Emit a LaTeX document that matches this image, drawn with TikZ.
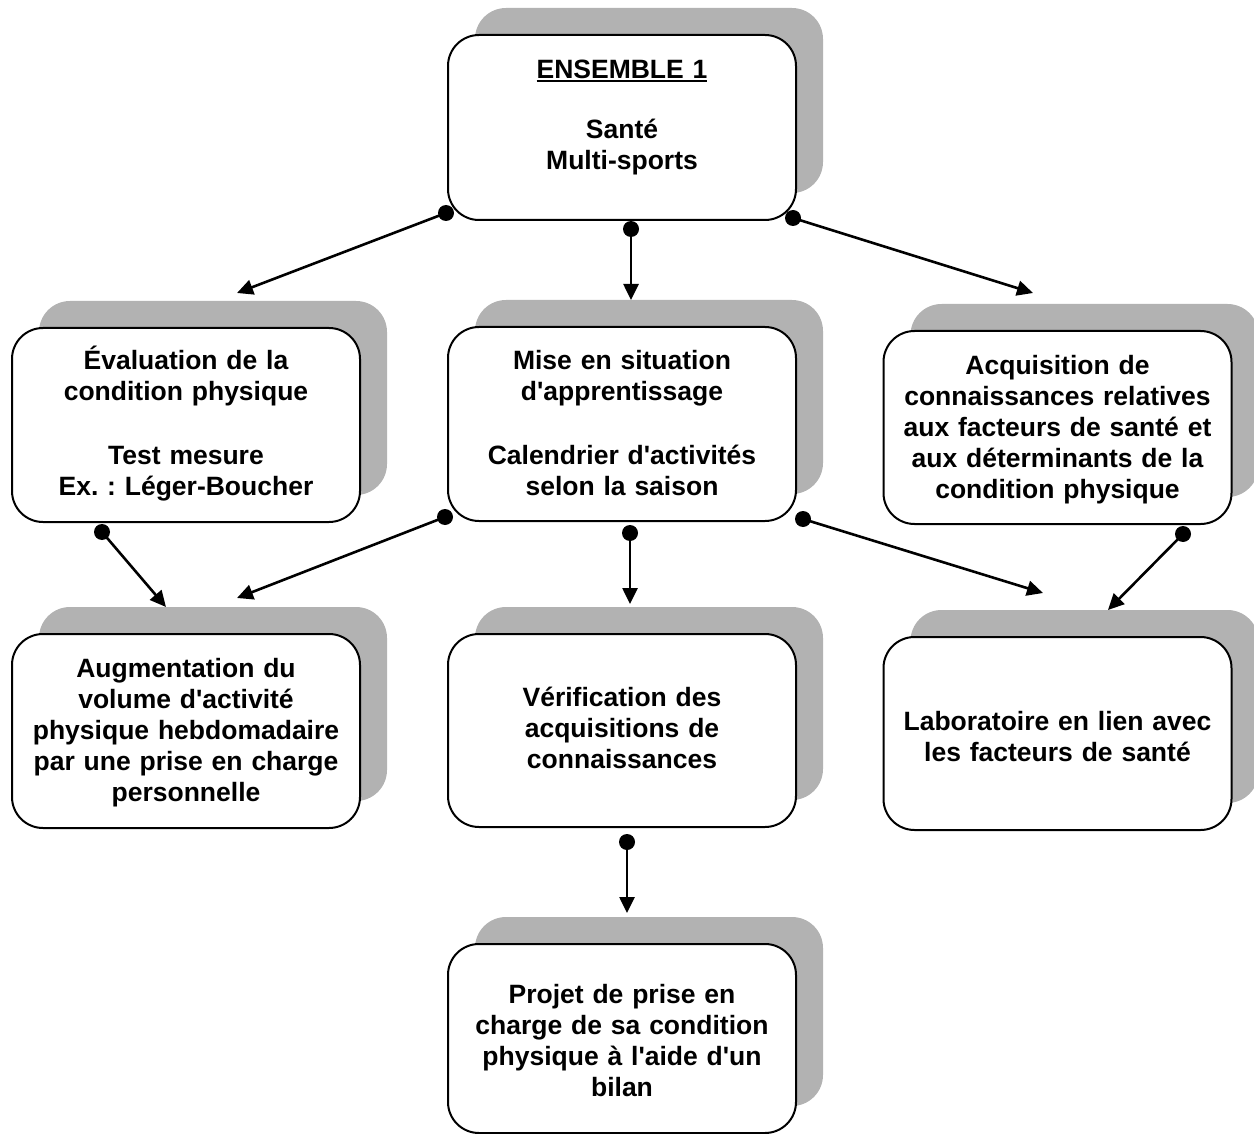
\documentclass[tikz,border=0pt]{standalone}
\usepackage{fontspec}
\setmainfont{Liberation Sans}
\usetikzlibrary{arrows.meta,shadows}
\newcommand\ulbox[1]{\setbox0\hbox{#1}\rlap{\rule[-3.4pt]{\wd0}{2.2pt}}\box0}
\newcommand\ap{\XeTeXglyph\XeTeXcharglyph"0027\relax}
\frenchspacing
\begin{document}
\begin{tikzpicture}[x=1pt,y=-1pt,
  box/.style={draw=black, line width=2pt, fill=white, rounded corners=31pt, inner sep=0pt,
     minimum width=348pt,
     drop shadow={shadow xshift=27pt, shadow yshift=27pt, fill=black!30, draw=none, opacity=1}},
  lbl/.style={anchor=base, align=center, text width=346pt, inner sep=0pt,
     font=\bfseries\fontsize{26.5}{31}\selectfont\frenchspacing},
  dot/.style={circle, fill=black, draw=none, inner sep=0pt, minimum size=16pt},
  conn/.style={line width=2.6pt, -{Triangle[length=16pt,width=15pt]}}]
\useasboundingbox (0,0) rectangle (1254,1134);
\clip (0,0) rectangle (1254,1134);

% boxes
\node[box, minimum height=185pt] (top)   at (622,127.5) {};
\node[box, minimum height=194pt] (evalb) at (186,425) {};
\node[box, minimum height=194pt] (mise)  at (622,424) {};
\node[box, minimum height=193pt] (acq)   at (1057.5,427.5) {};
\node[box, minimum height=194pt] (augm)  at (186,731) {};
\node[box, minimum height=193pt] (verif) at (622,730.5) {};
\node[box, minimum height=193pt] (labo)  at (1057.5,733.5) {};
\node[box, minimum height=189pt] (proj)  at (622,1038.5) {};

% texts
\node[lbl] (topT) at (622,79) {\ulbox{ENSEMBLE 1}\\[29pt] Santé\\ Multi-sports};
\node[lbl] (evalbT) at (186,370) {Évaluation de la\\ condition physique\\[33pt] Test mesure\\ Ex. : Léger-Boucher};
\node[lbl] (miseT) at (622,370) {Mise en situation\\ d\ap apprentissage\\[33pt] Calendrier d\ap activités\\ selon la saison};
\node[lbl] (acqT) at (1057.5,374) {Acquisition de\\ connaissances relatives\\ aux facteurs de santé et\\ aux déterminants de la\\ condition physique};
\node[lbl] (augmT) at (186,677) {Augmentation du\\ volume d\ap activité\\ physique hebdomadaire\\ par une prise en charge\\ personnelle};
\node[lbl] (verifT) at (622,706) {Vérification des\\ acquisitions de\\ connaissances};
\node[lbl] (laboT) at (1057.5,730) {Laboratoire en lien avec\\ les facteurs de santé};
\node[lbl] (projT) at (622,1003) {Projet de prise en\\ charge de sa condition\\ physique à l\ap aide d\ap un\\ bilan};

% connector ends
\node[dot] (d1) at (446,213) {};
\node[dot] (d2) at (631,229) {};
\node[dot] (d3) at (793,218) {};
\node[dot] (d4) at (102,532) {};
\node[dot] (d5) at (445,517) {};
\node[dot] (d6) at (630,533) {};
\node[dot] (d7) at (803,519) {};
\node[dot] (d8) at (1183,534) {};
\node[dot] (d9) at (627,842) {};
\coordinate (t1) at (237,293);
\coordinate (t2) at (631,300);
\coordinate (t3) at (1033,293);
\coordinate (t4) at (166,607);
\coordinate (t5) at (237,598);
\coordinate (t6) at (630,604);
\coordinate (t7) at (1043,593);
\coordinate (t8) at (1108,610);
\coordinate (t9) at (627,913);

\draw[conn] (d1.center) -- (t1);
\draw[conn] (d2.center) -- (t2);
\draw[conn] (d3.center) -- (t3);
\draw[conn] (d4.center) -- (t4);
\draw[conn] (d5.center) -- (t5);
\draw[conn] (d6.center) -- (t6);
\draw[conn] (d7.center) -- (t7);
\draw[conn] (d8.center) -- (t8);
\draw[conn] (d9.center) -- (t9);
\end{tikzpicture}
\end{document}
